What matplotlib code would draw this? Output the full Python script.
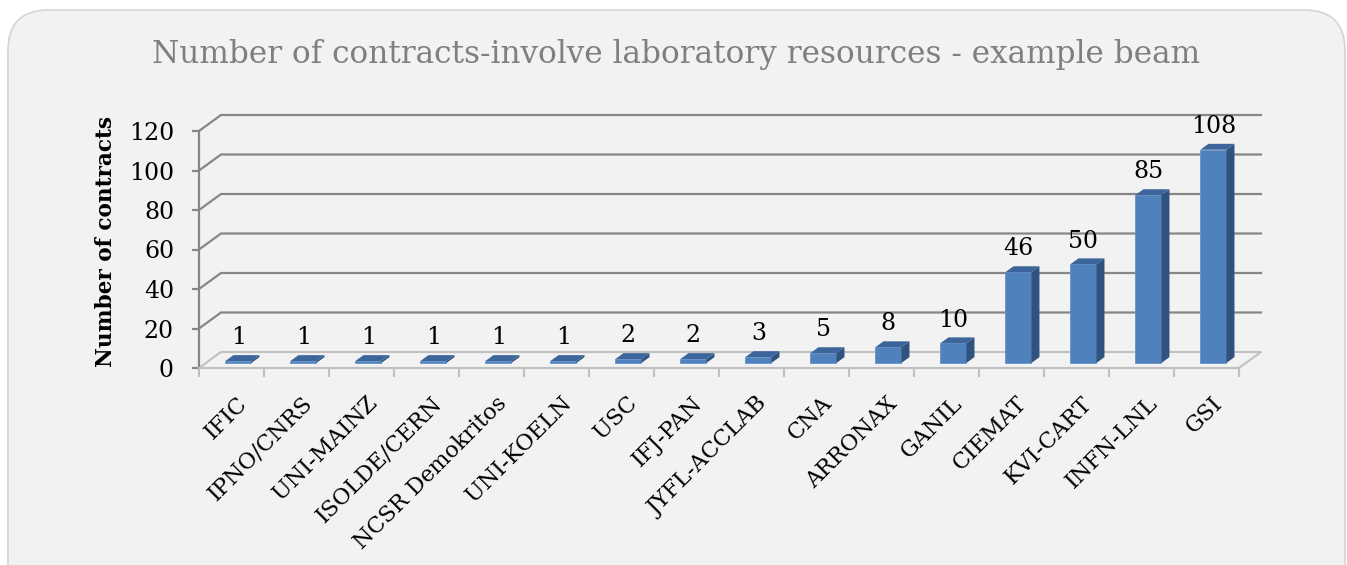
import numpy as np
import matplotlib
matplotlib.use('Agg')
import matplotlib.pyplot as plt
from matplotlib.patches import FancyBboxPatch, Polygon, Rectangle

plt.rcParams['font.family'] = 'DejaVu Serif'

labs = ['IFIC', 'IPNO/CNRS', 'UNI-MAINZ', 'ISOLDE/CERN', 'NCSR Demokritos', 'UNI-KOELN',
        'USC', 'IFJ-PAN', 'JYFL-ACCLAB', 'CNA', 'ARRONAX', 'GANIL', 'CIEMAT', 'KVI-CART',
        'INFN-LNL', 'GSI']
n_contracts = [1, 1, 1, 1, 1, 1, 2, 2, 3, 5, 8, 10, 46, 50, 85, 108]
yticks = [0, 20, 40, 60, 80, 100, 120]

W, H = 1347, 565
fig = plt.figure(figsize=(W/100, H/100), dpi=100, facecolor='white')

# rounded panel (runs off the bottom edge)
panel = FancyBboxPatch((8/W, -40/H), 1337/W, (H-10+40)/H, boxstyle='round,pad=0,rounding_size=0.03',
                       transform=fig.transFigure, facecolor='#f2f2f2', edgecolor='#d4d4d4',
                       lw=1.2, mutation_aspect=W/H, zorder=-5)
fig.patches.append(panel)

# axes: front floor line x 199..1239 px, y=0 at 368 px from top, 1.975 px per unit
px_unit = 1.975
ax = fig.add_axes([199/W, (H-368)/H, 1040/W, 120*px_unit/H])
ax.set_zorder(2)
ax.set_xlim(0, 16)
ax.set_ylim(0, 120)
ax.patch.set_visible(False)

DX = 22/65.0        # depth shift in category units
DY = 16/px_unit     # depth shift in value units
grid_c = '#868686'
floor_c = '#c0c0c0'

# back wall gridlines + left wall diagonals
for v in yticks:
    if v == 0:
        ax.plot([0, DX, 16+DX, 16], [0, DY, DY, 0], color=floor_c, lw=1.5, clip_on=False, zorder=1)
    else:
        ax.plot([0, DX, 16+DX], [v, v+DY, v+DY], color=grid_c, lw=1.6, clip_on=False, zorder=1)

# bars
d0, d1 = 0.31, 0.68
for i, v in enumerate(n_contracts):
    x0 = i + 0.3
    x1 = i + 0.7
    fx0, fx1, fy = x0 + DX*d0, x1 + DX*d0, DY*d0
    bx0, bx1, by = x0 + DX*d1, x1 + DX*d1, DY*d1
    ax.add_patch(Rectangle((fx0, fy), 0.4, v, facecolor='#4f81bd', edgecolor='#6a93c9', lw=0.6,
                           zorder=3, clip_on=False))
    ax.add_patch(Polygon([(fx1, fy), (bx1, by), (bx1, v+by), (fx1, v+fy)], closed=True,
                         facecolor='#30527f', edgecolor='none', zorder=3, clip_on=False))
    ax.add_patch(Polygon([(fx0, v+fy), (fx1, v+fy), (bx1, v+by), (bx0, v+by)], closed=True,
                         facecolor='#3c659b', edgecolor='none', zorder=3, clip_on=False))
    ax.text((fx0+fx1)/2, v + fy + 8.5, str(v), ha='center', va='baseline', fontsize=17,
            color='black', zorder=4)
    ax.text(i + 0.57, -12.3, labs[i], rotation=45, ha='right', va='top',
            rotation_mode='anchor', fontsize=16, color='black')

for s in ['top', 'right']:
    ax.spines[s].set_visible(False)
ax.spines['left'].set_color(grid_c)
ax.spines['left'].set_linewidth(1.6)
ax.spines['bottom'].set_color(floor_c)
ax.spines['bottom'].set_linewidth(1.5)
ax.set_yticks(yticks)
ax.set_yticklabels([str(t) for t in yticks], fontsize=17)
ax.tick_params(axis='y', length=5, width=1.6, color=grid_c, pad=13)
ax.set_xticks(np.arange(17))
ax.set_xticklabels([])
ax.tick_params(axis='x', length=6.5, width=1.5, color=floor_c)

fig.text(106/W, 1 - 241.5/H, 'Number of contracts', rotation=90, ha='center', va='center',
         fontsize=15.6, fontweight='bold')
fig.text(676/W, 1 - 55/H, 'Number of contracts-involve laboratory resources - example beam',
         ha='center', va='center', fontsize=22.4, color='#7f7f7f')

fig.savefig('out.png', dpi=100, facecolor='white')
